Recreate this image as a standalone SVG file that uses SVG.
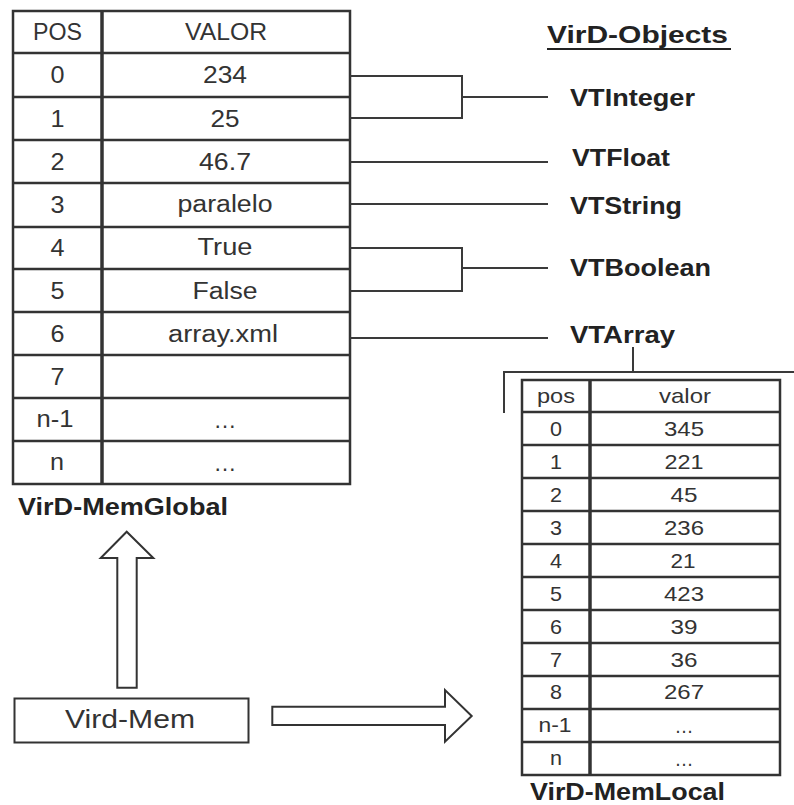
<svg xmlns="http://www.w3.org/2000/svg" width="794" height="805" viewBox="0 0 794 805">
<style>
  .grid { stroke: #333; stroke-width: 2.5; fill: none; }
  .div { stroke: #333; stroke-width: 3.5; }
  .conn { stroke: #3a3a3a; stroke-width: 2; fill: none; }
  .t { font-family: "Liberation Sans", Arial, sans-serif; fill: #333; text-anchor: middle; lengthAdjust: spacingAndGlyphs; }
  .g { font-size: 23px; }
  .l { font-size: 21px; }
  .b { font-family: "Liberation Sans", Arial, sans-serif; font-weight: bold; font-size: 24px; fill: #222; }
  .arrow { fill: #fff; stroke: #333; stroke-width: 2; stroke-linejoin: miter; }
</style>
<rect width="794" height="805" fill="#fff"/>

<g id="mem-global">
  <rect class="grid" x="13" y="11" width="337" height="473"/>
  <line class="div" x1="102" y1="11" x2="102" y2="484"/>
  <path class="grid" d="M13 53H350M13 97H350M13 140H350M13 183H350M13 227H350M13 269H350M13 312H350M13 355H350M13 398H350M13 441H350"/>
  <g class="t g">
    <text x="57.5" y="40" textLength="49" lengthAdjust="spacingAndGlyphs">POS</text>
    <text x="226" y="40" textLength="82" lengthAdjust="spacingAndGlyphs">VALOR</text>
    <text x="57.5" y="83" textLength="14" lengthAdjust="spacingAndGlyphs">0</text>
    <text x="225" y="83" textLength="44" lengthAdjust="spacingAndGlyphs">234</text>
    <text x="57.5" y="127" textLength="14" lengthAdjust="spacingAndGlyphs">1</text>
    <text x="225" y="127" textLength="29" lengthAdjust="spacingAndGlyphs">25</text>
    <text x="57.5" y="170" textLength="14" lengthAdjust="spacingAndGlyphs">2</text>
    <text x="225" y="170" textLength="52" lengthAdjust="spacingAndGlyphs">46.7</text>
    <text x="57.5" y="213" textLength="14" lengthAdjust="spacingAndGlyphs">3</text>
    <text x="225" y="212" textLength="95" lengthAdjust="spacingAndGlyphs">paralelo</text>
    <text x="57.5" y="256" textLength="14" lengthAdjust="spacingAndGlyphs">4</text>
    <text x="225" y="255" textLength="55" lengthAdjust="spacingAndGlyphs">True</text>
    <text x="57.5" y="299" textLength="14" lengthAdjust="spacingAndGlyphs">5</text>
    <text x="225" y="299" textLength="65" lengthAdjust="spacingAndGlyphs">False</text>
    <text x="57.5" y="342" textLength="14" lengthAdjust="spacingAndGlyphs">6</text>
    <text x="223" y="342" textLength="110" lengthAdjust="spacingAndGlyphs">array.xml</text>
    <text x="57.5" y="385" textLength="14" lengthAdjust="spacingAndGlyphs">7</text>
    <text x="55" y="427" textLength="37" lengthAdjust="spacingAndGlyphs">n-1</text>
    <text x="225" y="428" textLength="23" lengthAdjust="spacingAndGlyphs">…</text>
    <text x="57" y="470" textLength="14" lengthAdjust="spacingAndGlyphs">n</text>
    <text x="225" y="471" textLength="23" lengthAdjust="spacingAndGlyphs">…</text>
  </g>
  <text class="b" x="18" y="515" textLength="210" lengthAdjust="spacingAndGlyphs">VirD-MemGlobal</text>
</g>

<g id="objects-title">
  <text class="b" x="547" y="43" textLength="181" lengthAdjust="spacingAndGlyphs">VirD-Objects</text>
  <line x1="547" y1="49" x2="731" y2="49" stroke="#222" stroke-width="2"/>
</g>
<g id="vtinteger"><text class="b" x="570" y="106" textLength="125" lengthAdjust="spacingAndGlyphs">VTInteger</text></g>
<g id="vtfloat"><text class="b" x="572" y="166" textLength="98" lengthAdjust="spacingAndGlyphs">VTFloat</text></g>
<g id="vtstring"><text class="b" x="570" y="214" textLength="112" lengthAdjust="spacingAndGlyphs">VTString</text></g>
<g id="vtboolean"><text class="b" x="570" y="276" textLength="141" lengthAdjust="spacingAndGlyphs">VTBoolean</text></g>
<g id="vtarray"><text class="b" x="570" y="343" textLength="105" lengthAdjust="spacingAndGlyphs">VTArray</text></g>

<g id="mem-local">
  <rect class="grid" x="522" y="380" width="258" height="395"/>
  <line class="div" x1="590" y1="380" x2="590" y2="775"/>
  <path class="grid" d="M522 412H780M522 445H780M522 478H780M522 511H780M522 544H780M522 577H780M522 610H780M522 643H780M522 676H780M522 709H780M522 742H780"/>
  <g class="t l">
    <text x="556" y="403" textLength="38" lengthAdjust="spacingAndGlyphs">pos</text>
    <text x="685" y="403" textLength="52" lengthAdjust="spacingAndGlyphs">valor</text>
    <text x="556" y="436" textLength="12" lengthAdjust="spacingAndGlyphs">0</text>
    <text x="684" y="436" textLength="40" lengthAdjust="spacingAndGlyphs">345</text>
    <text x="556" y="469" textLength="12" lengthAdjust="spacingAndGlyphs">1</text>
    <text x="684" y="469" textLength="39" lengthAdjust="spacingAndGlyphs">221</text>
    <text x="556" y="502" textLength="12" lengthAdjust="spacingAndGlyphs">2</text>
    <text x="684" y="502" textLength="27" lengthAdjust="spacingAndGlyphs">45</text>
    <text x="556" y="535" textLength="12" lengthAdjust="spacingAndGlyphs">3</text>
    <text x="684" y="535" textLength="40" lengthAdjust="spacingAndGlyphs">236</text>
    <text x="556" y="568" textLength="12" lengthAdjust="spacingAndGlyphs">4</text>
    <text x="683" y="568" textLength="25" lengthAdjust="spacingAndGlyphs">21</text>
    <text x="556" y="601" textLength="12" lengthAdjust="spacingAndGlyphs">5</text>
    <text x="684" y="601" textLength="40" lengthAdjust="spacingAndGlyphs">423</text>
    <text x="556" y="634" textLength="12" lengthAdjust="spacingAndGlyphs">6</text>
    <text x="684" y="634" textLength="27" lengthAdjust="spacingAndGlyphs">39</text>
    <text x="556" y="667" textLength="12" lengthAdjust="spacingAndGlyphs">7</text>
    <text x="684" y="667" textLength="27" lengthAdjust="spacingAndGlyphs">36</text>
    <text x="556" y="699" textLength="12" lengthAdjust="spacingAndGlyphs">8</text>
    <text x="684" y="699" textLength="40" lengthAdjust="spacingAndGlyphs">267</text>
    <text x="555" y="732" textLength="33" lengthAdjust="spacingAndGlyphs">n-1</text>
    <text x="684" y="733" textLength="19" lengthAdjust="spacingAndGlyphs">…</text>
    <text x="556" y="765" textLength="12" lengthAdjust="spacingAndGlyphs">n</text>
    <text x="684" y="766" textLength="19" lengthAdjust="spacingAndGlyphs">…</text>
  </g>
  <text class="b" x="530" y="800" textLength="195" lengthAdjust="spacingAndGlyphs">VirD-MemLocal</text>
</g>

<g id="vird-mem">
  <rect x="14.5" y="698.5" width="234" height="44" fill="#fff" stroke="#333" stroke-width="2"/>
  <text x="130" y="728" font-family="Liberation Sans, Arial, sans-serif" font-size="26" fill="#333" text-anchor="middle" textLength="130" lengthAdjust="spacingAndGlyphs">Vird-Mem</text>
</g>

<g id="connectors">
  <path class="conn" d="M350 76H462V118H350M462 97H548"/>
  <path class="conn" d="M350 162H548"/>
  <path class="conn" d="M350 204H548"/>
  <path class="conn" d="M350 248H462V291H350M462 268H548"/>
  <path class="conn" d="M350 338H548"/>
  <path class="conn" d="M633 347V372M504 413V372H794"/>
  <polygon class="arrow" points="117.3,687.7 117.3,558 100.7,558 126.7,531.7 153.3,558 136.7,558 136.7,687.7"/>
  <polygon class="arrow" points="272.3,706.7 445,706.7 445,690 471.7,716 445,741.7 445,725 272.3,725"/>
</g>
</svg>
